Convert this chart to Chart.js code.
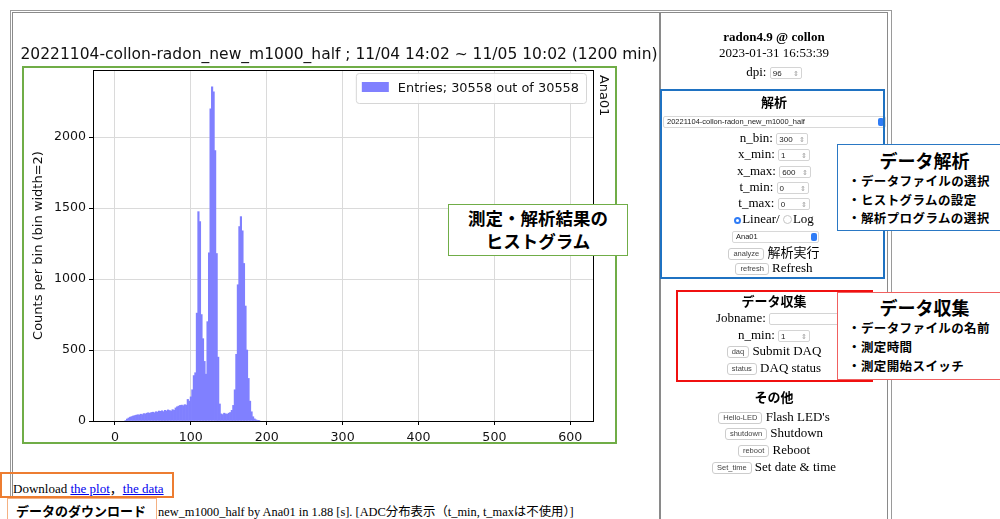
<!DOCTYPE html>
<html>
<head>
<meta charset="utf-8">
<script src="https://cdn.jsdelivr.net/npm/chart.js"></script>
<style>
html, body { margin: 0; padding: 0; background: #fff; }
body { width: 1000px; height: 519px; overflow: hidden; position: relative;
  font-family: "Liberation Serif", "Noto Sans CJK JP", serif; font-size: 13px; color: #000; }
.abs { position: absolute; }
.row { position: absolute; left: 0; width: 226px; text-align: center; line-height: 16px; height: 16px; white-space: nowrap; }
.b { font-weight: bold; }
.num { display: inline-block; position: relative; width: 28px; height: 10px; border: 1px solid #d4d4d4; border-radius: 2px;
  font: 8px "Liberation Sans", sans-serif; line-height: 11px; text-align: left; padding-left: 2px; vertical-align: middle; color: #222; }
.num i { position: absolute; right: 2px; top: 0; font-style: normal; font-size: 7px; color: #999; }
.btn { display: inline-block; border: 1px solid #cdcdcd; border-radius: 3px; font: 7.5px "Liberation Sans", sans-serif;
  padding: 0 4px; height: 10px; line-height: 10px; color: #444; vertical-align: middle; background: #fff; }
.sel { position: absolute; height: 10px; border: 1px solid #d8d8d8; border-radius: 2px; background: #fff;
  font: 7.5px "Liberation Sans", sans-serif; line-height: 10px; padding-left: 3px; color: #222; text-align: left; }
.sel i { position: absolute; right: 1px; top: 1px; width: 6px; height: 8px; border-radius: 2px; background: #2f7cf6; }
.rad { display: inline-block; width: 7px; height: 7px; border-radius: 50%; border: 1px solid #c4c4c4; vertical-align: -1px; margin-right: 1px; }
.rad.on { width: 3px; height: 3px; border: 2.5px solid #2f7cf6; background: #fff; }
.callout { position: absolute; background: #fff; box-sizing: border-box; }
.ct { position: absolute; left: 0; width: 100%; text-align: center; font: bold 18px "Noto Sans CJK JP", sans-serif; line-height: 22px; }
.bul { position: absolute; left: 10px; font: bold 12.5px "Noto Sans CJK JP", sans-serif; line-height: 18px; white-space: nowrap; letter-spacing: 0.4px; }
a { color: #0000ee; }
</style>
</head>
<body>

<!-- table frame -->
<div class="abs" style="left:10px;top:10px;width:880px;height:530px;border:1px solid #9a9a9a;"></div>
<div class="abs" style="left:12px;top:12px;width:646px;height:530px;border:1px solid #8a8a8a;"></div>
<div class="abs" style="left:660px;top:12px;width:226px;height:530px;border:1px solid #8a8a8a;"></div>

<div class="abs" style="left:13px;top:30px;width:660px;height:430px;">
  <canvas id="hist" width="660" height="430"></canvas>
</div>

<!-- right panel -->
<div class="abs" style="left:661px;top:0;width:226px;height:519px;">
  <div class="row b" style="top:29px">radon4.9 @ collon</div>
  <div class="row" style="top:45px">2023-01-31 16:53:39</div>
  <div class="row" style="top:64px">dpi: <span class="num">96<i>⇕</i></span></div>
  <div class="row b" style="top:95px">解析</div>
  <div class="sel" style="left:2px;top:116px;width:218px;">20221104-collon-radon_new_m1000_half<i></i></div>
  <div class="row" style="top:130px">n_bin: <span class="num">300<i>⇕</i></span></div>
  <div class="row" style="top:146px">x_min: <span class="num">1<i>⇕</i></span></div>
  <div class="row" style="top:163px">x_max: <span class="num">600<i>⇕</i></span></div>
  <div class="row" style="top:179px">t_min: <span class="num">0<i>⇕</i></span></div>
  <div class="row" style="top:195px">t_max: <span class="num">0<i>⇕</i></span></div>
  <div class="row" style="top:211px"><span class="rad on"></span>Linear/ <span class="rad"></span>Log</div>
  <div class="sel" style="left:71px;top:231px;width:82px;">Ana01<i></i></div>
  <div class="row" style="top:245px"><span class="btn">analyze</span> 解析実行</div>
  <div class="row" style="top:260px"><span class="btn">refresh</span> Refresh</div>
  <div class="row b" style="top:294px">データ収集</div>
  <div class="row" style="top:310px;left:55px;text-align:left;">Jobname: <span class="num" style="width:90px"></span></div>
  <div class="row" style="top:327px">n_min: <span class="num">1<i>⇕</i></span></div>
  <div class="row" style="top:343px"><span class="btn">daq</span> Submit DAQ</div>
  <div class="row" style="top:360px"><span class="btn">status</span> DAQ status</div>
  <div class="row b" style="top:390px">その他</div>
  <div class="row" style="top:409px"><span class="btn">Hello-LED</span> Flash LED's</div>
  <div class="row" style="top:425px"><span class="btn">shutdown</span> Shutdown</div>
  <div class="row" style="top:442px"><span class="btn">reboot</span> Reboot</div>
  <div class="row" style="top:459px"><span class="btn">Set_time</span> Set date &amp; time</div>
</div>

<!-- bottom texts -->
<div class="abs" style="left:13px;top:481px;line-height:16px;white-space:nowrap;">Download <a href="#">the plot</a>，<a href="#">the data</a></div>
<div class="abs" style="left:158px;top:504px;line-height:16px;white-space:nowrap;font-size:12.4px;">new_m1000_half by Ana01 in 1.88 [s]. [ADC分布表示（t_min, t_maxは不使用）]</div>

<!-- annotation frames -->
<div class="abs" style="left:22px;top:66px;width:591px;height:374px;border:2.5px solid #70ad47;"></div>
<div class="abs" style="left:660px;top:89px;width:221px;height:186px;border:2.5px solid #1f72c2;"></div>
<div class="abs" style="left:676px;top:290px;width:193px;height:88px;border:2.5px solid #f01010;"></div>
<div class="abs" style="left:0px;top:472px;width:170px;height:22px;border:2.5px solid #ed7d31;"></div>

<div class="callout" style="left:448px;top:204px;width:180px;height:52px;border:1.5px solid #70ad47;">
  <div class="ct" style="top:2px;font-size:17.5px;">測定・解析結果の</div>
  <div class="ct" style="top:25px;font-size:17.5px;">ヒストグラム</div>
</div>
<div class="callout" style="left:837px;top:144px;width:175px;height:87px;border:1.5px solid #2a78c4;">
  <div class="ct" style="top:4px">データ解析</div>
  <div class="bul" style="top:27px">・データファイルの選択</div>
  <div class="bul" style="top:46px">・ヒストグラムの設定</div>
  <div class="bul" style="top:64px">・解析プログラムの選択</div>
</div>
<div class="callout" style="left:837px;top:292px;width:175px;height:88px;border:1.5px solid #f06060;">
  <div class="ct" style="top:3px">データ収集</div>
  <div class="bul" style="top:26px">・データファイルの名前</div>
  <div class="bul" style="top:45px">・測定時間</div>
  <div class="bul" style="top:64px">・測定開始スイッチ</div>
</div>
<div class="callout" style="left:7px;top:498px;width:150px;height:30px;border:1.5px solid #f4b183;">
  <div style="position:absolute;left:8px;top:3px;font:bold 13px 'Noto Sans CJK JP',sans-serif;line-height:18px;white-space:nowrap;">データのダウンロード</div>
</div>

<script>
// ---------- data ----------
var plotTitle = '20221104-collon-radon_new_m1000_half ; 11/04 14:02 ~ 11/05 10:02 (1200 min)';
var yLabel = 'Counts per bin (bin width=2)';
var sideLabel = 'Ana01';
var legendLabel = 'Entries; 30558 out of 30558';

// lower edge of the first listed bin, bin width 2 (300 bins over 1..600)
var binStart = 13;
var binWidth = 2;
var counts = [
	4, 14, 21, 27, 31, 35, 38, 41, 44, 42,
	48, 45, 52, 50, 55, 58, 54, 60, 62, 58,
	65, 63, 70, 68, 72, 66, 75, 71, 78, 74,
	70, 80, 76, 92, 100, 105, 110, 112, 108, 115,
	112, 152, 140, 170, 220, 320, 340, 760, 1475, 1405,
	750, 580, 420, 330, 700, 1185, 2200, 2355, 2320, 1906,
	1180, 450, 120, 50, 45, 55, 50, 48, 55, 60,
	75, 110, 220, 470, 960, 1370, 1440, 1340, 1110, 810,
	500, 300, 140, 65, 30, 15, 8, 5, 3
];

var xTickValues = [0, 100, 200, 300, 400, 500, 600];
var yTickValues = [0, 500, 1000, 1500, 2000];
var xRange = [-28.95, 629.95];
var yRange = [0, 2473];

var histPoints = counts.map(function (c, i) {
	return { x: binStart + binWidth * (i + 0.5), y: c };
});

// ---------- plugins ----------
var frameAndLabels = {
	id: 'frameAndLabels',
	afterDraw: function (chart) {
		var ctx = chart.ctx;
		var a = chart.chartArea;
		ctx.save();
		// axes frame (top / right spines)
		ctx.strokeStyle = '#000';
		ctx.lineWidth = 1;
		ctx.strokeRect(Math.round(a.left) + 0.5, Math.round(a.top) + 0.5, Math.round(a.right - a.left), Math.round(a.bottom - a.top));

		// title centred over the axes
		ctx.fillStyle = '#111';
		ctx.font = '15.5px "DejaVu Sans"';
		ctx.textAlign = 'center';
		ctx.textBaseline = 'middle';
		ctx.fillText(plotTitle, (a.left + a.right) / 2 - 4, a.top - 15);

		// legend box, top-right inside the axes
		ctx.font = '12.9px "DejaVu Sans"';
		var ds = chart.data.datasets[0];
		var tw = ctx.measureText(ds.label).width;
		var w = 6 + 27 + 9 + tw + 7;
		var h = 30;
		var x = a.right - 7 - w;
		var y = a.top + 3;
		ctx.beginPath();
		ctx.roundRect(x + 0.5, y + 0.5, w, h, 3);
		ctx.fillStyle = 'rgba(255,255,255,0.85)';
		ctx.fill();
		ctx.strokeStyle = '#d6d6d6';
		ctx.stroke();
		ctx.fillStyle = ds.backgroundColor;
		ctx.fillRect(x + 6, y + 9, 27, 10);
		ctx.fillStyle = '#111';
		ctx.textAlign = 'left';
		ctx.fillText(ds.label, x + 6 + 27 + 9, y + h / 2 + 0.5);

		// side label on the right of the axes
		ctx.translate(a.right + 10, a.top + 5);
		ctx.rotate(Math.PI / 2);
		ctx.fillText(sideLabel, 0, 0);
		ctx.restore();
	}
};

var tickFont = { family: 'DejaVu Sans', size: 12.6 };

new Chart(document.getElementById('hist').getContext('2d'), {
	type: 'bar',
	data: {
		datasets: [{
			label: legendLabel,
			data: histPoints,
			backgroundColor: '#8080ff',
			borderWidth: 0,
			barPercentage: 1,
			categoryPercentage: 1
		}]
	},
	options: {
		responsive: false,
		animation: false,
		devicePixelRatio: 1,
		layout: { padding: { left: 0, right: 80, top: 40, bottom: 0 } },
		scales: {
			x: {
				type: 'linear',
				min: xRange[0],
				max: xRange[1],
				offset: false,
				z: 1,
				afterBuildTicks: function (scale) {
					scale.ticks = xTickValues.map(function (v) { return { value: v }; });
				},
				afterFit: function (scale) { scale.height = 39; },
				grid: { color: '#dadada', offset: false, tickLength: 4, tickColor: '#000' },
				border: { color: '#000' },
				ticks: { color: '#111', font: tickFont, padding: 5, maxRotation: 0,
					callback: function (v) { return String(v); } }
			},
			y: {
				min: yRange[0],
				max: yRange[1],
				z: 1,
				afterBuildTicks: function (scale) {
					scale.ticks = yTickValues.map(function (v) { return { value: v }; });
				},
				afterFit: function (scale) { scale.width = 80; },
				grid: { color: '#dadada', tickLength: 4, tickColor: '#000' },
				border: { color: '#000' },
				ticks: { color: '#111', font: tickFont, padding: 3,
					callback: function (v) { return String(v); } },
				title: {
					display: true,
					text: yLabel,
					color: '#111',
					font: { family: 'DejaVu Sans', size: 13 },
					padding: { top: 18, bottom: 0 }
				}
			}
		},
		plugins: {
			legend: { display: false },
			tooltip: { enabled: false },
			title: { display: false }
		}
	},
	plugins: [frameAndLabels]
});
</script>
</body>
</html>
